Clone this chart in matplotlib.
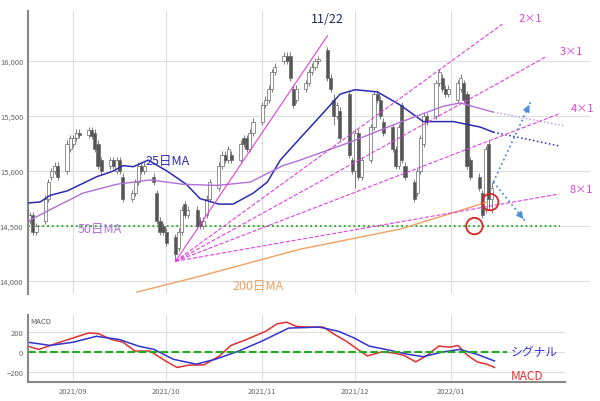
import matplotlib.pyplot as plt
import numpy as np
import pandas as pd

plt.rcParams['font.family'] = ['Noto Sans CJK JP', 'DejaVu Sans']

# --- candle data (business days 2021-08-17 .. 2022-01-14) ---
opens = [14650, 14550, 14600, 14450, 14550, 14750, 14950, 15000, 15050, 15000, 15200,
         15250, 15300, 15350, 15330, 15370, 15350, 15250, 15100, 15050, 15100, 15000,
         15100, 14950, 14750, 14800, 14900, 15050, 15000, 14950, 14800, 14550, 14500,
         14450, 14400, 14300, 14450, 14700, 14600, 14650, 14550, 14500, 14600, 14750,
         14850, 15050, 15150, 15100, 15150, 15100, 15300, 15300, 15200, 15350,
         15450, 15600, 15650, 15750, 15900, 16000, 16050, 16050, 15750, 15650, 15750,
         15800, 15900, 15950, 16000, 16100, 15850, 15650, 15500, 15550, 15700, 15100,
         15000, 15350, 14950, 15100, 15400, 15700, 15650, 15450, 15400, 15200, 15050,
         15600, 15050, 14900, 14800, 15000, 15250, 15500, 15500, 15800, 15850, 15750,
         15700, 15650, 15750, 15800, 15700, 15100, 14950, 14800, 14650, 15250, 14750]
closes = [14550, 14600, 14450, 14500, 14750, 14900, 15000, 15050, 14950, 15250, 15300,
          15300, 15350, 15330, 15370, 15320, 15200, 15050, 15000, 15100, 15050, 15100,
          15000, 14750, 14800, 14900, 15050, 15000, 15050, 14900, 14550, 14450, 14450,
          14350, 14250, 14450, 14650, 14600, 14650, 14500, 14500, 14550, 14750, 14900,
          15050, 15150, 15100, 15200, 15100, 15250, 15250, 15200, 15350, 15450,
          15600, 15650, 15750, 15900, 15950, 16050, 16000, 15850, 15600, 15750, 15800,
          15900, 15950, 16000, 16020, 15850, 15750, 15500, 15600, 15300, 15150, 15000,
          15350, 14950, 15100, 15400, 15700, 15650, 15500, 15350, 15200, 15050, 15400,
          15100, 14950, 14750, 15000, 15300, 15500, 15450, 15800, 15900, 15750, 15700,
          15750, 15800, 15850, 15650, 15050, 14950, 14850, 14600, 15200, 14750, 14850]
wick_extra = {34: (30, 70), 76: (30, 150), 107: (30, 100), 108: (50, 130), 71: (50, 80)}

# moving averages (days since 2021-09-01, value)
ma25_d = [-14.5, -10.6, -7.4, -1.9, 7.7, 12.9, 16.1, 19.4, 24.2, 30.3, 36.5, 40.9, 47, 51.6,
          58.1, 62.6, 66.8, 73.2, 79.7, 86.1, 90.9, 98.1, 105.5, 112.9, 122.6, 131.3, 135.5]
ma25_v = [14710, 14720, 14780, 14820, 14950, 15000, 15050, 15040, 15100, 15000, 14880, 14750,
          14700, 14700, 14800, 14900, 15100, 15300, 15500, 15700, 15740, 15720, 15600, 15450,
          15450, 15400, 15354]
ma50_d = [-14.5, -7.4, 3.2, 14, 24.8, 35.5, 46.5, 57.1, 67.7, 73.2, 89.4, 105.5, 119.4, 124.8, 135.5]
ma50_v = [14545, 14650, 14800, 14880, 14920, 14880, 14870, 14900, 15050, 15100, 15264, 15445,
          15590, 15620, 15536]
ma200_d = [20.6, 41, 73.2, 105.5, 133.5]
ma200_v = [13900, 14045, 14290, 14473, 14718]

# MACD panel
macd_d = [-14.6, -11.1, -4.9, 0, 5, 8.1, 12.4, 16.1, 19.9, 24.8, 29.8, 33.5, 37.2, 42.2, 47.2,
          50.9, 55.9, 62.1, 65.8, 68.9, 72, 75.7, 80.7, 84.4, 88.1, 91.8, 94.9, 99.3, 103, 106.7,
          110.5, 114.2, 117.9, 121.6, 124.1, 127.2, 130.3, 133.4, 135.9]
macd_v = [59, 26, 92, 141, 190, 184, 125, 98, 10, 10, -89, -154, -131, -128, -39, 66, 125, 207,
          282, 298, 256, 249, 249, 174, 108, 26, -39, 0, -7, -33, -98, -33, 59, 49, 66, -33, -98,
          -121, -154]
sig_d = [-14.6, -7.4, 0, 7.5, 14.9, 21.1, 26.1, 32.3, 39.7, 45.9, 53.4, 60.8, 69.5, 79.4, 85.6,
         90.6, 95.5, 101.8, 108, 112.9, 119.1, 124.7, 130.3, 135.9]
sig_v = [98, 66, 98, 157, 125, 59, 26, -72, -121, -72, 10, 108, 239, 249, 207, 141, 59, 20, -23,
         -46, 0, 26, -23, -89]

# Gann fan from the 10/4 low
fan_origin = (33, 14180)
fan_ends = {'1x1': (82, 16230), '2x1': (138.4, 16336), '3x1': (152.3, 16036),
            '4x1': (156.5, 15518), '8x1': (156.5, 14791)}

month_ticks = [0, 30, 61, 91, 122]
month_labels = ['2021/09', '2021/10', '2021/11', '2021/12', '2022/01']

base = pd.Timestamp('2021-09-01')
days = np.array([(d - base).days for d in pd.bdate_range('2021-08-17', '2022-01-14')])

fig = plt.figure(figsize=(6, 4.02), dpi=100)
ax = fig.add_axes([0.047, 0.266, 0.937, 0.704])
ax2 = fig.add_axes([0.047, 0.047, 0.895, 0.167])

# grid & axes style
for a in (ax, ax2):
    for s in ('top', 'right', 'bottom'):
        a.spines[s].set_visible(False)
    a.spines['left'].set_color('#888888')
    a.spines['left'].set_linewidth(1.5)
    a.tick_params(length=0, labelsize=5.5, labelcolor='#666666')
    a.set_xticks(month_ticks)
    a.grid(True, color='#dddddd', lw=0.8)
    a.set_axisbelow(True)
ax.set_xticklabels([])
ax2.set_xticklabels(month_labels)
ax2.spines['bottom'].set_visible(True)
ax2.spines['bottom'].set_color('#888888')
ax2.spines['bottom'].set_linewidth(1.5)

ax.set_xlim(-14.5, 166.8)
ax.set_ylim(13882, 16455)
ax.set_yticks([14000, 14500, 15000, 15500, 16000])
ax.set_yticklabels([f'{v:,}' for v in [14000, 14500, 15000, 15500, 16000]])

# candles
for i, (x, o, c) in enumerate(zip(days, opens, closes)):
    up, dn = wick_extra.get(i, (30, 30))
    ax.vlines(x, min(o, c) - dn, max(o, c) + up, color='#666666', lw=0.6, zorder=3)
    fc = 'white' if c >= o else '#555555'
    ax.bar(x, abs(c - o) or 10, bottom=min(o, c), width=1.0, color=fc,
           edgecolor='#666666', lw=0.5, zorder=4)

ax.axhline(14500, xmin=0, xmax=(157 + 14.5) / 181.3, color='#22aa22', ls=':', lw=1.3, zorder=2)

ax.plot(ma25_d, ma25_v, color='#2b2bb0', lw=1.1, zorder=5)
ax.plot([135.5, 157], [15354, 15227], color='#2b2bb0', lw=1.1, ls=':', zorder=5)
ax.plot(ma50_d, ma50_v, color='#b070d8', lw=1.0, zorder=5)
ax.plot([135.5, 158.7], [15536, 15410], color='#c090e0', lw=1.0, ls=':', zorder=5)
ax.plot(ma200_d, ma200_v, color='#f0a060', lw=1.0, zorder=5)

for name, (ex, ey) in fan_ends.items():
    ls = '-' if name == '1x1' else '--'
    ax.plot([fan_origin[0], ex], [fan_origin[1], ey], color='#e040e0', lw=0.8, ls=ls, zorder=6)

ax.text(82, 16390, '11/22', color='#1c2a5a', fontsize=9, ha='center', va='center')
ax.text(143.5, 16390, '2×1', color='#e040e0', fontsize=8, va='center')
ax.text(157, 16090, '3×1', color='#e040e0', fontsize=8, va='center')
ax.text(160.5, 15570, '4×1', color='#e040e0', fontsize=8, va='center')
ax.text(160, 14840, '8×1', color='#e040e0', fontsize=8, va='center')
ax.text(30.5, 15100, '25日MA', color='#2b2bb0', fontsize=9, ha='center', va='center')
ax.text(8.5, 14475, '50日MA', color='#b070d8', fontsize=9, ha='center', va='center')
ax.text(59.5, 13960, '200日MA', color='#f0a060', fontsize=9, ha='center', va='center')

ax.scatter([129.4, 134.5], [14500, 14718], s=140, facecolors='none', edgecolors='#dd2222',
           lw=1.3, zorder=8)
for tx, ty in [(147.5, 15627), (145.8, 14545)]:
    ax.plot([135.5, tx], [14900, ty], color='#4a90d9', ls=':', lw=1.3, zorder=7)
    ax.annotate('', xy=(tx, ty), xytext=(135.5 + (tx - 135.5) * 0.85, 14900 + (ty - 14900) * 0.85),
                arrowprops=dict(arrowstyle='-|>', color='#4a90d9', lw=1, mutation_scale=10), zorder=7)

# MACD panel
ax2.set_xlim(-14.5, 158.7)
ax2.set_ylim(-300, 370)
ax2.set_yticks([-200, 0, 200])
ax2.plot(macd_d, macd_v, color='#e03030', lw=1.1)
ax2.plot(sig_d, sig_v, color='#3333cc', lw=1.1)
ax2.axhline(0, xmax=(140 + 14.5) / 173.2, color='#22aa22', ls='--', lw=1.5)
ax2.text(-14, 345, 'MACD', fontsize=5.5, color='#555555', va='top')
ax2.text(141, 0, 'シグナル', color='#3333cc', fontsize=8.5, va='center')
ax2.text(141, -230, 'MACD', color='#e03030', fontsize=8.5, va='center')

fig.savefig('out.png', dpi=100)
